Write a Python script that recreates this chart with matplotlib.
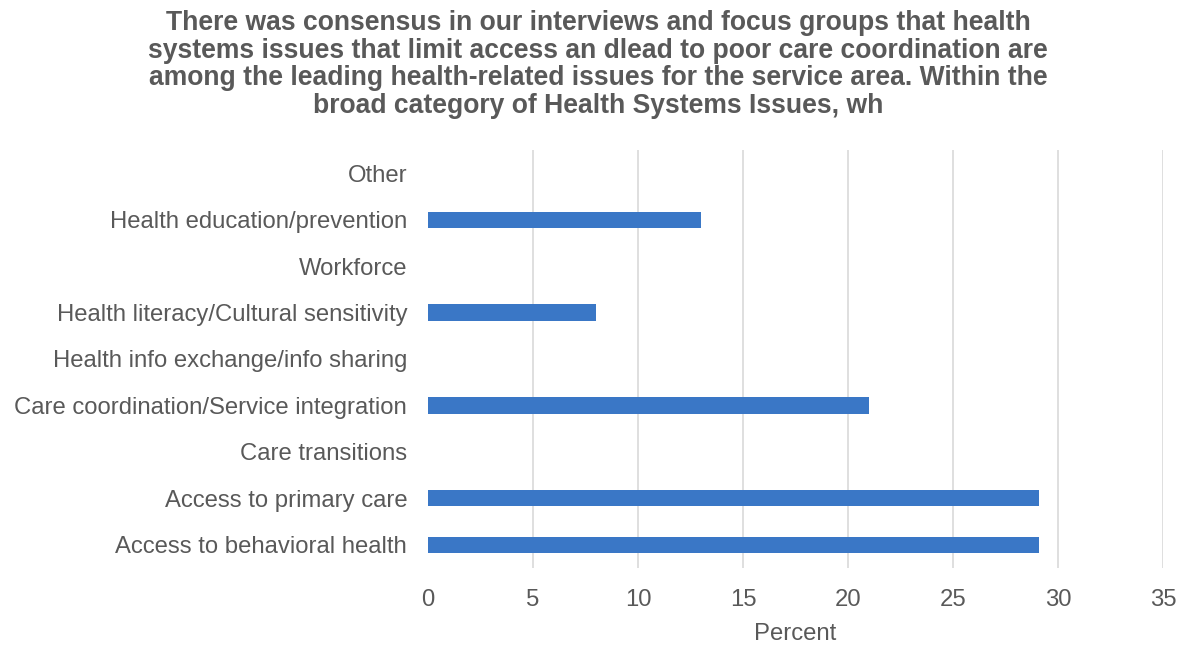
import matplotlib.pyplot as plt

plt.rcParams["font.family"] = ["Liberation Sans", "DejaVu Sans"]

categories = [
    "Access to behavioral health",
    "Access to primary care",
    "Care transitions",
    "Care coordination/Service integration",
    "Health info exchange/info sharing",
    "Health literacy/Cultural sensitivity",
    "Workforce",
    "Health education/prevention",
    "Other",
]
percent = [29.1, 29.1, 0, 21, 0, 8, 0, 13, 0]
x_ticks = [0, 5, 10, 15, 20, 25, 30, 35]

title = ("There was consensus in our interviews and focus groups that health\n"
         "systems issues that limit access an dlead to poor care coordination are\n"
         "among the leading health-related issues for the service area. Within the\n"
         "broad category of Health Systems Issues, wh")

text_color = "#595959"
bar_color = "#3a77c6"
grid_color = "#d9d9d9"

fig = plt.figure(figsize=(11.84, 6.48), dpi=100)
ax = fig.add_axes([0.3615, 0.1235, 0.6208, 0.645])

ypos = range(len(categories))
ax.barh(ypos, percent, height=0.35, color=bar_color, zorder=3)

ax.set_xlim(0, 35)
ax.set_ylim(-0.5, len(categories) - 0.5)
ax.set_xticks(x_ticks)
ax.set_yticks(list(ypos))
ax.set_yticklabels(categories)

for x in x_ticks[1:]:
    ax.axvline(x, color=grid_color, linewidth=1.2, zorder=1)

for side in ax.spines.values():
    side.set_visible(False)
ax.tick_params(axis="both", length=0, labelsize=17.2, labelcolor=text_color)
ax.tick_params(axis="x", pad=15)
ax.tick_params(axis="y", pad=15)

ax.set_xlabel("Percent", fontsize=17.2, color=text_color, labelpad=9)

fig.text(0.505, 0.985, title, ha="center", va="top", fontsize=19.1,
         fontweight="bold", color=text_color, linespacing=1.09)

fig.savefig("out.png", dpi=100)
